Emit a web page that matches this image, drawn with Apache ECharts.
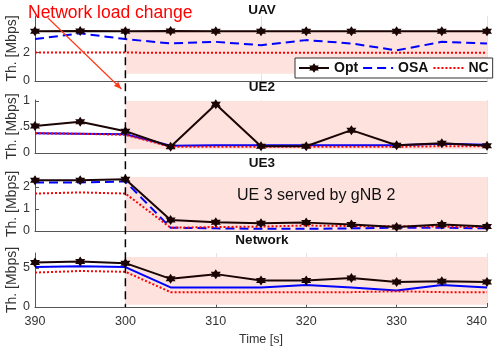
<!DOCTYPE html>
<html>
<head>
<meta charset="utf-8">
<script src="https://cdn.jsdelivr.net/npm/echarts@6.0.0/dist/echarts.min.js"></script>
<style>
  html, body { margin: 0; padding: 0; background: #fff; }
  #chart { width: 498px; height: 347px; }
</style>
</head>
<body>
<div id="chart"></div>
<script>
// time axis (s)
const times = [290, 295, 300, 305, 310, 315, 320, 325, 330, 335, 340]
const xTickValues = [290, 300, 310, 320, 330, 340]
const xTickLabels = ['390', '300', '310', '320', '330', '340']

// UAV
const uavOpt = [3.45, 3.47, 3.45, 3.47, 3.45, 3.45, 3.45, 3.45, 3.45, 3.45, 3.45]
const uavOsa = [2.9, 3.3, 2.9, 2.6, 2.71, 2.48, 2.83, 2.6, 2.12, 2.71, 2.6]
const uavNc = [1.97, 1.97, 1.97, 1.95, 1.95, 1.96, 1.96, 1.96, 1.96, 1.96, 1.96]
// UE2
const ue2Opt = [0.52, 0.6, 0.42, 0.12, 0.94, 0.13, 0.13, 0.44, 0.15, 0.19, 0.14]
const ue2Osa = [0.38, 0.37, 0.36, 0.14, 0.15, 0.15, 0.15, 0.15, 0.15, 0.18, 0.16]
const ue2Nc = [0.38, 0.37, 0.35, 0.12, 0.12, 0.12, 0.12, 0.12, 0.12, 0.13, 0.13]
// UE3
const ue3Opt = [2.3, 2.3, 2.35, 0.5, 0.4, 0.35, 0.38, 0.3, 0.18, 0.3, 0.2]
const ue3Osa = [2.2, 2.2, 2.25, 0.15, 0.12, 0.1, 0.1, 0.12, 0.15, 0.15, 0.12]
const ue3Nc = [1.7, 1.75, 1.7, 0.15, 0.18, 0.2, 0.25, 0.22, 0.22, 0.2, 0.18]
// Network
const netOpt = [5.7, 5.8, 5.6, 3.6, 4.2, 3.4, 3.4, 3.7, 3.2, 3.3, 3.2]
const netOsa = [5.1, 5.2, 5.1, 2.5, 2.5, 2.5, 2.8, 2.5, 2.1, 2.8, 2.5]
const netNc = [4.4, 4.6, 4.5, 1.9, 1.9, 1.9, 1.9, 1.9, 2.0, 1.9, 1.9]

// shaded period after the load change, per panel [low, high]
const shadeFrom = 300
const shadeTo = 340
const shadeY = [[0.5, 3.5], [0.07, 1.0], [0, 2.45], [0.3, 6.4]]

const panelTitles = ['UAV', 'UE2', 'UE3', 'Network']
const yMax = [4.5, 1.02, 2.45, 6.9]
const yTicks = [[0, 2], [0, 0.5, 1], [0, 1, 2], [0, 5]]

const FONT = 'Liberation Sans, Arial, Helvetica, sans-serif'
const STAR = 'path://M0,-10 L2.9,-5 L8.66,-5 L5.8,0 L8.66,5 L2.9,5 L0,10 L-2.9,5 L-8.66,5 L-5.8,0 L-8.66,-5 L-2.9,-5 Z'
const gridBoxes = [
  { top: 16, height: 65 },
  { top: 100, height: 53 },
  { top: 177, height: 54 },
  { top: 253, height: 54 }
]

const chart = echarts.init(document.getElementById('chart'), null, { renderer: 'canvas' })

const pairs = arr => times.map((t, i) => [t, arr[i]])

function makeSeries(panel, opt, osa, nc, osaSolid) {
  return [
    {
      name: 'Opt', type: 'line', xAxisIndex: panel, yAxisIndex: panel,
      data: pairs(opt), symbol: STAR, symbolSize: 10, z: 5,
      lineStyle: { color: '#1a0404', width: 2 },
      itemStyle: { color: '#1a0404' },
      markArea: {
        silent: true,
        itemStyle: { color: '#fde2de' },
        data: [[{ xAxis: shadeFrom, yAxis: shadeY[panel][0] }, { xAxis: shadeTo, yAxis: shadeY[panel][1] }]]
      }
    },
    {
      name: 'OSA', type: 'line', xAxisIndex: panel, yAxisIndex: panel,
      data: pairs(osa), showSymbol: false, symbol: 'none', z: 3,
      lineStyle: { color: '#0000ff', width: 2, type: osaSolid ? 'solid' : [9, 5] },
      itemStyle: { color: '#0000ff' }
    },
    {
      name: 'NC', type: 'line', xAxisIndex: panel, yAxisIndex: panel,
      data: pairs(nc), showSymbol: false, symbol: 'none', z: 4,
      lineStyle: { color: '#ff0000', width: 2, type: [2, 2] },
      itemStyle: { color: '#ff0000' }
    }
  ]
}

const grids = gridBoxes.map(g => ({
  left: 35, right: 11, top: g.top, height: g.height,
  containLabel: false, outerBoundsMode: 'none'
}))

const xAxes = gridBoxes.map((g, i) => {
  const last = i === 3
  return {
    type: 'value', gridIndex: i, min: 290, max: 340,
    interval: last ? 10 : 25,
    axisLine: { show: true, lineStyle: { color: '#555', width: 1 } },
    axisTick: { show: last, inside: true, length: 4, lineStyle: { color: '#555' } },
    axisLabel: {
      show: last, color: '#333', fontFamily: FONT, fontSize: 12.5, margin: 8,
      alignMinLabel: 'center', alignMaxLabel: 'right',
      formatter: v => {
        const k = xTickValues.indexOf(v)
        return k >= 0 ? xTickLabels[k] : ''
      }
    },
    splitLine: { show: true, lineStyle: { color: '#e3e3e3', width: 1 } },
    name: last ? 'Time [s]' : '',
    nameLocation: 'middle', nameGap: 26,
    nameTextStyle: { color: '#333', fontFamily: FONT, fontSize: 12.5 }
  }
})

const yAxes = gridBoxes.map((g, i) => ({
  type: 'value', gridIndex: i, min: 0, max: yMax[i],
  axisLine: { show: true, lineStyle: { color: '#555', width: 1 } },
  axisTick: { show: true, inside: true, length: 4, customValues: yTicks[i], lineStyle: { color: '#555' } },
  axisLabel: {
    color: '#333', fontFamily: FONT, fontSize: 12.5, margin: 5,
    customValues: yTicks[i],
    formatter: v => (v === 0.5 ? '.5' : String(v))
  },
  splitLine: { show: false },
  name: 'Th. [Mbps]', nameLocation: 'middle', nameGap: 16, nameRotate: 90,
  nameMoveOverlap: false,
  nameTextStyle: { color: '#333', fontFamily: FONT, fontSize: 14 }
}))

const titles = panelTitles.map((t, i) => ({
  text: t, left: 262, top: [3, 80, 156, 233][i], textAlign: 'center', padding: 0,
  textStyle: { fontFamily: FONT, fontSize: 13.5, fontWeight: 'bold', color: '#111' }
}))

chart.setOption({
  animation: false,
  title: titles,
  grid: grids,
  xAxis: xAxes,
  yAxis: yAxes,
  legend: {
    data: [
      { name: 'Opt' },
      { name: 'OSA', itemStyle: { opacity: 0 } },
      { name: 'NC', itemStyle: { opacity: 0 } }
    ],
    left: 295, top: 58, width: 200,
    padding: [3, 4, 3, 3],
    itemWidth: 30, itemHeight: 12, itemGap: 4,
    backgroundColor: '#fff', borderColor: '#333', borderWidth: 1, borderRadius: 0,
    textStyle: { fontFamily: FONT, fontSize: 14, fontWeight: 'bold', color: '#111' },
    selectedMode: false, z: 10
  },
  series: [
    ...makeSeries(0, uavOpt, uavOsa, uavNc, false),
    ...makeSeries(1, ue2Opt, ue2Osa, ue2Nc, true),
    ...makeSeries(2, ue3Opt, ue3Osa, ue3Nc, false),
    ...makeSeries(3, netOpt, netOsa, netNc, true)
  ]
})

// load-change marker across all panels, plus annotations
const xChange = chart.convertToPixel({ xAxisIndex: 0 }, shadeFrom)
const yTop = chart.convertToPixel({ yAxisIndex: 0 }, uavOpt[2])
const yBottom = chart.convertToPixel({ yAxisIndex: 3 }, 0)
const arrowEnd = [xChange - 4, 89]
const arrowStart = [48, 18]
const ang = Math.atan2(arrowEnd[1] - arrowStart[1], arrowEnd[0] - arrowStart[0])
const head = 8
const headPts = [
  arrowEnd,
  [arrowEnd[0] - head * Math.cos(ang - 0.4), arrowEnd[1] - head * Math.sin(ang - 0.4)],
  [arrowEnd[0] - head * Math.cos(ang + 0.4), arrowEnd[1] - head * Math.sin(ang + 0.4)]
]

chart.setOption({
  graphic: [
    {
      type: 'line', z: 20,
      shape: { x1: xChange, y1: yTop, x2: xChange, y2: yBottom },
      style: { stroke: '#000', lineWidth: 1.5, lineDash: [8, 5] }
    },
    {
      type: 'text', left: 28, top: 4, z: 20,
      style: { text: 'Network load change', fill: '#ff0000', font: '17.5px ' + FONT }
    },
    {
      type: 'line', z: 20,
      shape: { x1: arrowStart[0], y1: arrowStart[1], x2: arrowEnd[0], y2: arrowEnd[1] },
      style: { stroke: '#ff3a1a', lineWidth: 1.2 }
    },
    {
      type: 'polygon', z: 20,
      shape: { points: headPts },
      style: { fill: '#ff3a1a' }
    },
    {
      type: 'text', left: 237, top: 188, z: 20,
      style: { text: 'UE 3 served by gNB 2', fill: '#111', font: '16px ' + FONT }
    }
  ]
})
</script>
</body>
</html>
